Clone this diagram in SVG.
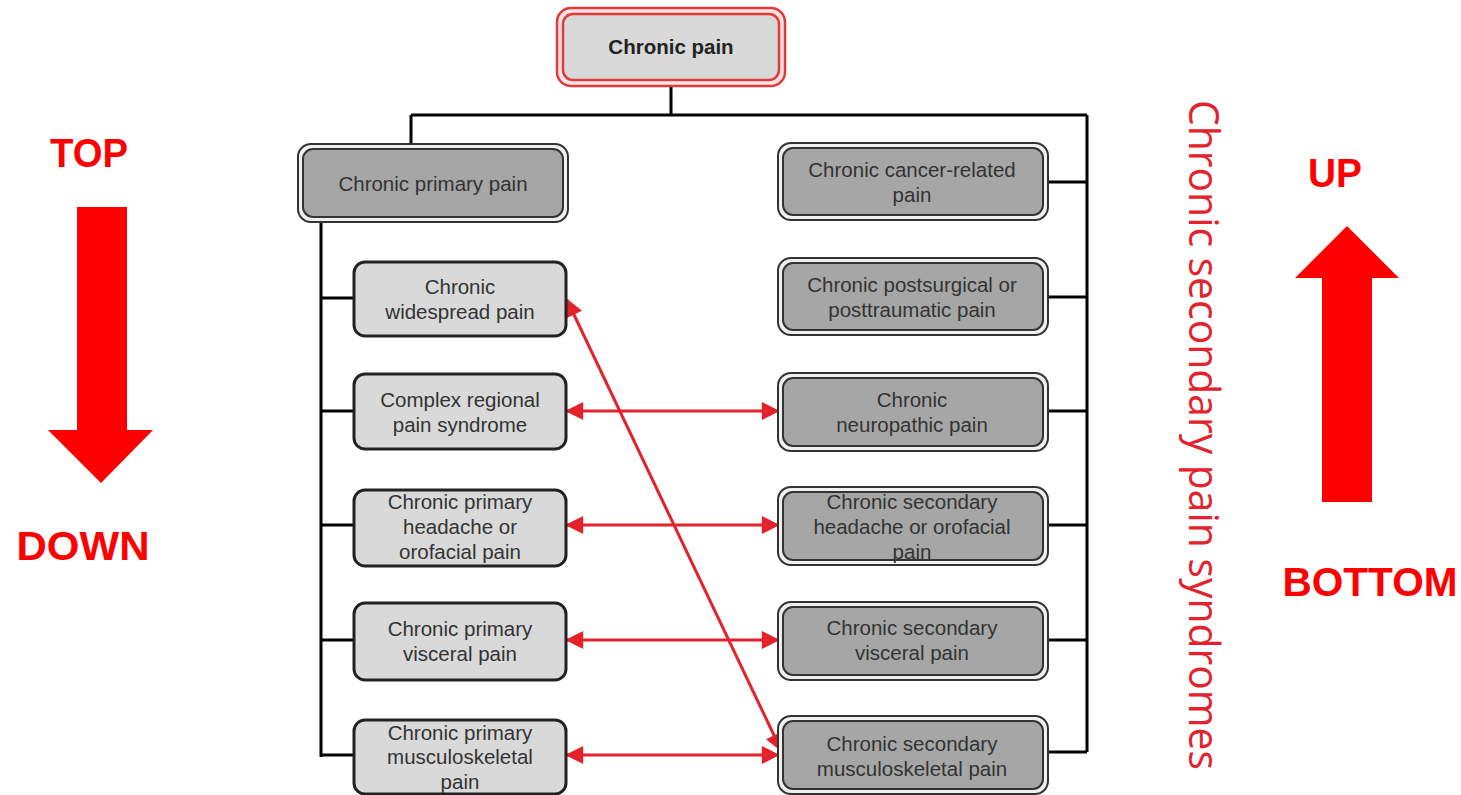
<svg xmlns="http://www.w3.org/2000/svg" width="1461" height="795" viewBox="0 0 1461 795">
<style>
.t{font-family:"Liberation Sans",Arial,sans-serif;font-size:20.5px;fill:#333;text-anchor:middle}
.tb{font-family:"Liberation Sans",Arial,sans-serif;font-size:20.5px;font-weight:bold;fill:#222;text-anchor:middle}
.lab{font-family:"Liberation Sans",Arial,sans-serif;font-size:40px;font-weight:bold;fill:#ff0000;text-anchor:middle}
.light{fill:#d9d9d9;stroke:#222;stroke-width:3}
.dout{fill:#f0f0f0;stroke:#333;stroke-width:2}
.din{fill:#a6a6a6;stroke:#333;stroke-width:2}
.ln{stroke:#000;stroke-width:3;fill:none}
.ra{stroke:#e3222b;stroke-width:3;fill:none;marker-start:url(#ah);marker-end:url(#ah)}
</style>
<defs>
<marker id="ah" viewBox="0 0 10 10" refX="9" refY="5" markerWidth="6.5" markerHeight="6" orient="auto-start-reverse" markerUnits="strokeWidth">
<path d="M0,0 L10,5 L0,10 z" fill="#e3222b"/>
</marker>
</defs>
<g id="connectors">
<path class="ln" d="M671,86 V115 M411,115 H1087 M411,115 V145 M1087,115 V752"/>
<path class="ln" d="M321,222 V757 M321,298 H354 M321,411 H354 M321,525 H354 M321,640 H354 M321,755 H354"/>
<path class="ln" d="M1048,182 H1087 M1048,297 H1087 M1048,411 H1087 M1048,525 H1087 M1048,640 H1087 M1048,752 H1087"/>
<line class="ra" x1="567" y1="411" x2="778" y2="411"/>
<line class="ra" x1="567" y1="525" x2="778" y2="525"/>
<line class="ra" x1="567" y1="640" x2="778" y2="640"/>
<line class="ra" x1="567" y1="755" x2="778" y2="755"/>
<line class="ra" x1="567" y1="300" x2="781" y2="750"/>
</g>
<g id="n-chronic-pain">
<rect x="557" y="8" width="228" height="78" rx="14" fill="#fde4e4" stroke="#e03a3a" stroke-width="2.5"/>
<rect x="563" y="14" width="216" height="66" rx="10" fill="#d9d9d9" stroke="#e03a3a" stroke-width="2.5"/>
<text class="tb" x="671" y="54">Chronic pain</text>
</g>
<g id="n-primary">
<rect class="dout" x="298" y="144" width="270" height="78" rx="13"/>
<rect class="din" x="303" y="149" width="260" height="68" rx="10"/>
<text class="t" x="433" y="191">Chronic primary pain</text>
</g>
<g id="n-widespread">
<rect class="light" x="354" y="262" width="212" height="74" rx="11"/>
<text class="t" x="460" y="294">Chronic</text>
<text class="t" x="460" y="319">widespread pain</text>
</g>
<g id="n-crps">
<rect class="light" x="354" y="374" width="212" height="75" rx="11"/>
<text class="t" x="460" y="407">Complex regional</text>
<text class="t" x="460" y="432">pain syndrome</text>
</g>
<g id="n-prim-headache">
<rect class="light" x="354" y="490" width="212" height="76" rx="11"/>
<text class="t" x="460" y="509">Chronic primary</text>
<text class="t" x="460" y="534">headache or</text>
<text class="t" x="460" y="559">orofacial pain</text>
</g>
<g id="n-prim-visceral">
<rect class="light" x="354" y="603" width="212" height="77" rx="11"/>
<text class="t" x="460" y="636">Chronic primary</text>
<text class="t" x="460" y="661">visceral pain</text>
</g>
<g id="n-prim-msk">
<rect class="light" x="354" y="720" width="212" height="74" rx="11"/>
<text class="t" x="460" y="740">Chronic primary</text>
<text class="t" x="460" y="764">musculoskeletal</text>
<text class="t" x="460" y="789">pain</text>
</g>
<g id="n-cancer">
<rect class="dout" x="778" y="143" width="270" height="77" rx="13"/>
<rect class="din" x="783" y="148" width="260" height="67" rx="10"/>
<text class="t" x="912" y="177">Chronic cancer-related</text>
<text class="t" x="912" y="202">pain</text>
</g>
<g id="n-postsurgical">
<rect class="dout" x="778" y="258" width="270" height="77" rx="13"/>
<rect class="din" x="783" y="263" width="260" height="67" rx="10"/>
<text class="t" x="912" y="292">Chronic postsurgical or</text>
<text class="t" x="912" y="317">posttraumatic pain</text>
</g>
<g id="n-neuropathic">
<rect class="dout" x="778" y="373" width="270" height="78" rx="13"/>
<rect class="din" x="783" y="378" width="260" height="68" rx="10"/>
<text class="t" x="912" y="407">Chronic</text>
<text class="t" x="912" y="432">neuropathic pain</text>
</g>
<g id="n-sec-headache">
<rect class="dout" x="778" y="487" width="270" height="78" rx="13"/>
<rect class="din" x="783" y="492" width="260" height="68" rx="10"/>
<text class="t" x="912" y="509">Chronic secondary</text>
<text class="t" x="912" y="534">headache or orofacial</text>
<text class="t" x="912" y="559">pain</text>
</g>
<g id="n-sec-visceral">
<rect class="dout" x="778" y="602" width="270" height="78" rx="13"/>
<rect class="din" x="783" y="607" width="260" height="68" rx="10"/>
<text class="t" x="912" y="635">Chronic secondary</text>
<text class="t" x="912" y="660">visceral pain</text>
</g>
<g id="n-sec-msk">
<rect class="dout" x="778" y="716" width="270" height="78" rx="13"/>
<rect class="din" x="783" y="721" width="260" height="68" rx="10"/>
<text class="t" x="912" y="751">Chronic secondary</text>
<text class="t" x="912" y="776">musculoskeletal pain</text>
</g>
<g id="side-label">
<text x="1205" y="435" transform="rotate(90 1205 435)" font-family="'Open Sans','Liberation Sans',sans-serif" font-weight="normal" font-size="42" fill="#e3222b" text-anchor="middle" dominant-baseline="central" textLength="670" lengthAdjust="spacingAndGlyphs">Chronic secondary pain syndromes</text>
</g>
<g id="left-indicator">
<text class="lab" x="89" y="167" textLength="78" lengthAdjust="spacingAndGlyphs">TOP</text>
<path d="M77,207 H127 V430 H153 L101,483 L48,430 H77 Z" fill="#ff0000"/>
<text class="lab" x="83" y="560" textLength="133" lengthAdjust="spacingAndGlyphs">DOWN</text>
</g>
<g id="right-indicator">
<text class="lab" x="1335" y="187" textLength="54" lengthAdjust="spacingAndGlyphs">UP</text>
<path d="M1347,226 L1399,278 H1372 V502 H1322 V278 H1295 Z" fill="#ff0000"/>
<text class="lab" x="1370" y="596" textLength="175" lengthAdjust="spacingAndGlyphs">BOTTOM</text>
</g>
</svg>
